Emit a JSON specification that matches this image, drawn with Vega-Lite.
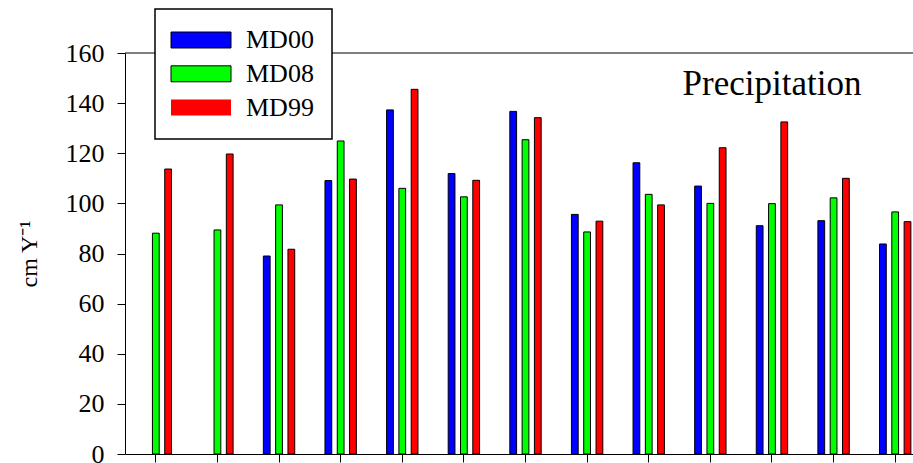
{
  "$schema": "https://vega.github.io/schema/vega-lite/v6.json",
  "width": 788,
  "height": 401,
  "autosize": {"type": "none"},
  "padding": {"left": 125, "top": 53, "right": 0, "bottom": 9},
  "background": "white",
  "config": {"view": {"stroke": null}, "font": "Liberation Serif"},
  "layer": [
    {
      "data": {"values": [
        {"group": "1", "series": "MD08", "value": 88.1},
        {"group": "1", "series": "MD99", "value": 113.7},
        {"group": "2", "series": "MD08", "value": 89.4},
        {"group": "2", "series": "MD99", "value": 119.7},
        {"group": "3", "series": "MD00", "value": 79.0},
        {"group": "3", "series": "MD08", "value": 99.4},
        {"group": "3", "series": "MD99", "value": 81.7},
        {"group": "4", "series": "MD00", "value": 109.1},
        {"group": "4", "series": "MD08", "value": 124.9},
        {"group": "4", "series": "MD99", "value": 109.7},
        {"group": "5", "series": "MD00", "value": 137.3},
        {"group": "5", "series": "MD08", "value": 106.0},
        {"group": "5", "series": "MD99", "value": 145.5},
        {"group": "6", "series": "MD00", "value": 111.9},
        {"group": "6", "series": "MD08", "value": 102.6},
        {"group": "6", "series": "MD99", "value": 109.2},
        {"group": "7", "series": "MD00", "value": 136.7},
        {"group": "7", "series": "MD08", "value": 125.4},
        {"group": "7", "series": "MD99", "value": 134.2},
        {"group": "8", "series": "MD00", "value": 95.6},
        {"group": "8", "series": "MD08", "value": 88.6},
        {"group": "8", "series": "MD99", "value": 92.9},
        {"group": "9", "series": "MD00", "value": 116.2},
        {"group": "9", "series": "MD08", "value": 103.6},
        {"group": "9", "series": "MD99", "value": 99.4},
        {"group": "10", "series": "MD00", "value": 106.9},
        {"group": "10", "series": "MD08", "value": 100.0},
        {"group": "10", "series": "MD99", "value": 122.2},
        {"group": "11", "series": "MD00", "value": 91.1},
        {"group": "11", "series": "MD08", "value": 99.9},
        {"group": "11", "series": "MD99", "value": 132.5},
        {"group": "12", "series": "MD00", "value": 93.1},
        {"group": "12", "series": "MD08", "value": 102.2},
        {"group": "12", "series": "MD99", "value": 110.0},
        {"group": "13", "series": "MD00", "value": 83.8},
        {"group": "13", "series": "MD08", "value": 96.6},
        {"group": "13", "series": "MD99", "value": 92.7}
      ]},
      "mark": {"type": "bar", "stroke": "black", "strokeWidth": 1},
      "encoding": {
        "x": {
          "field": "group", "type": "nominal",
          "scale": {"domain": ["1","2","3","4","5","6","7","8","9","10","11","12","13"], "range": [0, 801], "paddingInner": 0.4, "paddingOuter": 0.2},
          "axis": {"title": null, "labels": false, "tickSize": 8, "domainColor": "black", "tickColor": "black", "grid": false}
        },
        "xOffset": {
          "field": "series", "type": "nominal",
          "scale": {"domain": ["MD00", "MD08", "MD99"], "paddingInner": 0.45, "paddingOuter": 0.2275}
        },
        "y": {
          "field": "value", "type": "quantitative",
          "scale": {"domain": [0, 160], "nice": false},
          "axis": {
            "title": "cm Y⁻¹", "values": [0, 20, 40, 60, 80, 100, 120, 140, 160],
            "tickSize": 8, "labelPadding": 13, "labelFontSize": 26, "labelFont": "Liberation Serif", "labelColor": "black",
            "titleFontSize": 24, "titleFont": "Liberation Serif", "titleFontWeight": "normal", "titleColor": "black", "titlePadding": 24,
            "grid": false, "domainColor": "black", "tickColor": "black"
          }
        },
        "color": {
          "field": "series", "type": "nominal",
          "scale": {"domain": ["MD00", "MD08", "MD99"], "range": ["#0000ff", "#00ff00", "#ff0000"]},
          "legend": {
            "title": null, "orient": "none", "legendX": 30, "legendY": -44,
            "fillColor": "white", "strokeColor": "black", "padding": 18,
            "symbolType": "M-8,-2.13H8V2.13H-8Z", "symbolSize": 56.25, "symbolOffset": 15, "labelOffset": 32,
            "labelFontSize": 26, "labelFont": "Liberation Serif", "labelColor": "black", "rowPadding": 7.8,
            "labelExpr": "datum.label + '  '",
            "symbolStrokeColor": "black", "symbolStrokeWidth": 1, "symbolOpacity": 1,
            "encode": {
              "symbols": {"update": {"strokeWidth": {"signal": "datum.value === 'MD99' ? 0 : 1"}}},
              "legend": {"update": {"strokeWidth": {"value": 1.5}}}
            }
          }
        }
      }
    },
    {
      "data": {"values": [{"top": "frame"}]},
      "mark": {"type": "rule", "color": "black", "strokeWidth": 1},
      "encoding": {"y": {"datum": 160}}
    },
    {
      "data": {"values": [{"label": "Precipitation"}]},
      "mark": {"type": "text", "font": "Liberation Serif", "fontSize": 35, "align": "center", "baseline": "alphabetic", "color": "black"},
      "encoding": {
        "x": {"datum": "11", "type": "nominal"},
        "y": {"datum": 143.3},
        "text": {"field": "label"}
      }
    }
  ]
}
